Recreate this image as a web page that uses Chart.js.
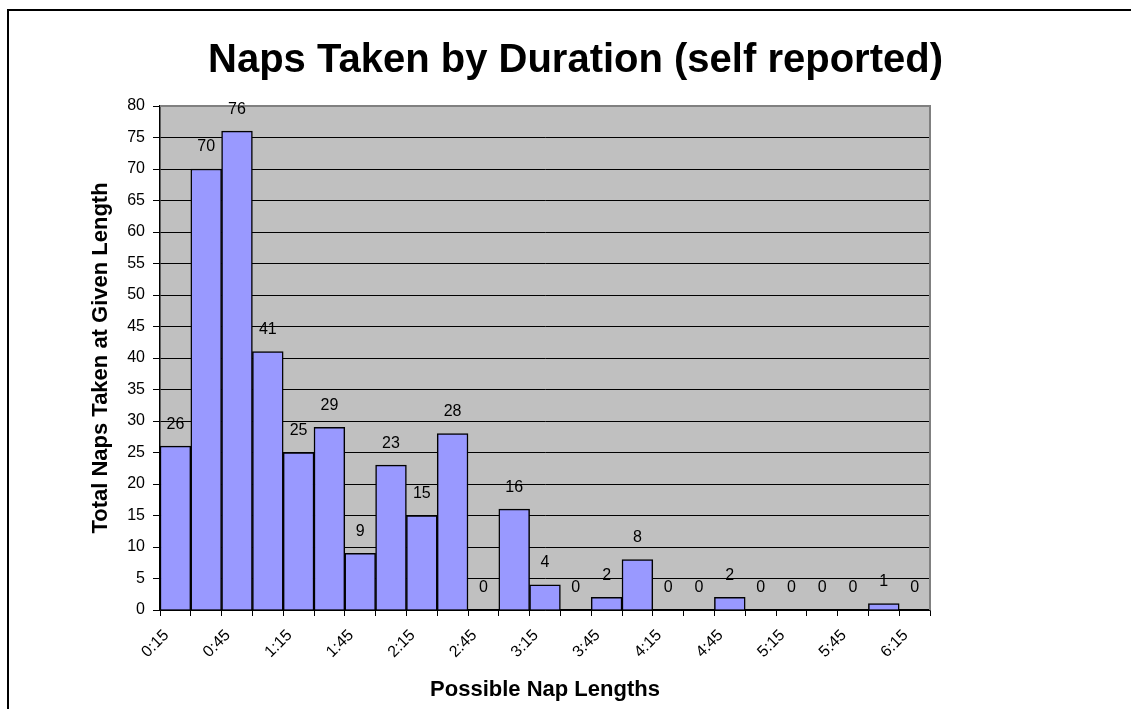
<!DOCTYPE html>
<html>
<head>
<meta charset="utf-8">
<script src="https://cdn.jsdelivr.net/npm/chart.js@4/dist/chart.umd.min.js"></script>
<style>
html,body{margin:0;padding:0;background:#fff;overflow:hidden;width:1131px;height:709px;}
#frame{position:absolute;left:7px;top:9px;width:2000px;height:2000px;border:2px solid #000;box-sizing:border-box;}
#wrap{position:absolute;left:0;top:0;width:1131px;height:709px;}
</style>
</head>
<body>
<div id="frame"></div>
<div id="wrap"><canvas id="c" width="1131" height="709"></canvas></div>
<script>
// ---- data ----
const categories = ['0:15','0:30','0:45','1:00','1:15','1:30','1:45','2:00','2:15','2:30','2:45','3:00','3:15','3:30','3:45','4:00','4:15','4:30','4:45','5:00','5:15','5:30','5:45','6:00','6:15'];
const napCounts = [26,70,76,41,25,29,9,23,15,28,0,16,4,0,2,8,0,0,2,0,0,0,0,1,0];
const yMin = 0, yMax = 80, yStep = 5;
const chartTitle = 'Naps Taken by Duration (self reported)';
const xTitle = 'Possible Nap Lengths';
const yTitle = 'Total Naps Taken at Given Length';

const FONT = "'Liberation Sans', Arial, sans-serif";

const plotBg = {
  id: 'plotBg',
  beforeDraw(chart) {
    const {ctx, chartArea: a} = chart;
    ctx.save();
    ctx.fillStyle = '#C0C0C0';
    ctx.fillRect(a.left, a.top, a.right - a.left, a.bottom - a.top);
    ctx.restore();
  },
  afterDatasetsDraw(chart) {
    const {ctx, chartArea: a} = chart;
    ctx.save();
    ctx.strokeStyle = '#808080';
    ctx.lineWidth = 2;
    ctx.beginPath();
    ctx.moveTo(a.left, a.top);
    ctx.lineTo(a.right, a.top);
    ctx.lineTo(a.right, a.bottom);
    ctx.stroke();
    // data labels
    const meta = chart.getDatasetMeta(0);
    ctx.fillStyle = '#000';
    ctx.font = '16px ' + FONT;
    ctx.textAlign = 'center';
    ctx.textBaseline = 'middle';
    meta.data.forEach((bar, i) => {
      ctx.fillText(String(napCounts[i]), bar.x, bar.y - 22);
    });
    ctx.restore();
  }
};

new Chart(document.getElementById('c'), {
  type: 'bar',
  data: {
    labels: categories,
    datasets: [{
      data: napCounts,
      backgroundColor: '#9999FF',
      borderColor: '#000',
      borderWidth: {top: 1.5, left: 1.5, right: 1.5, bottom: 0},
      barPercentage: 1,
      categoryPercentage: 1
    }]
  },
  options: {
    responsive: false,
    animation: false,
    layout: {padding: {left: 20, right: 0, top: 0, bottom: 0}},
    plugins: {
      legend: {display: false},
      tooltip: {enabled: false},
      title: {
        display: true,
        text: chartTitle,
        color: '#000',
        font: {family: FONT, size: 40, weight: 'bold', lineHeight: 1.2},
        padding: {top: 37, bottom: 21}
      }
    },
    scales: {
      x: {
        position: 'bottom',
        afterFit(s) { s.height = 99; },
        grid: {display: true, drawOnChartArea: false, drawTicks: true, tickLength: 6, color: '#000', offset: true},
        border: {display: true, color: '#000', width: 1.5},
        ticks: {
          autoSkip: false,
          maxRotation: 45, minRotation: 45,
          color: '#000',
          font: {family: FONT, size: 16},
          padding: 10,
          labelOffset: -9,
          callback(v, i) { return i % 2 === 0 ? categories[i] : ''; }
        },
        title: {display: true, text: xTitle, color: '#000', font: {family: FONT, size: 22, weight: 'bold', lineHeight: 1.2}, padding: {top: 0, bottom: 6}}
      },
      y: {
        position: 'left',
        min: yMin, max: yMax,
        afterFit(s) { s.width = 140; },
        grid: {color: '#000', lineWidth: 1, drawTicks: true, tickLength: 7},
        border: {display: true, color: '#000', width: 1.5},
        ticks: {stepSize: yStep, color: '#000', font: {family: FONT, size: 16}, padding: 8},
        title: {display: true, text: yTitle, color: '#000', font: {family: FONT, size: 22, weight: 'bold', lineHeight: 1.2}, padding: {top: 68, bottom: 0}}
      },
      yR: {
        position: 'right',
        display: true,
        afterFit(s) { s.width = 201; },
        grid: {display: false},
        border: {display: false},
        ticks: {display: false}
      }
    }
  },
  plugins: [plotBg]
});
</script>
</body>
</html>
